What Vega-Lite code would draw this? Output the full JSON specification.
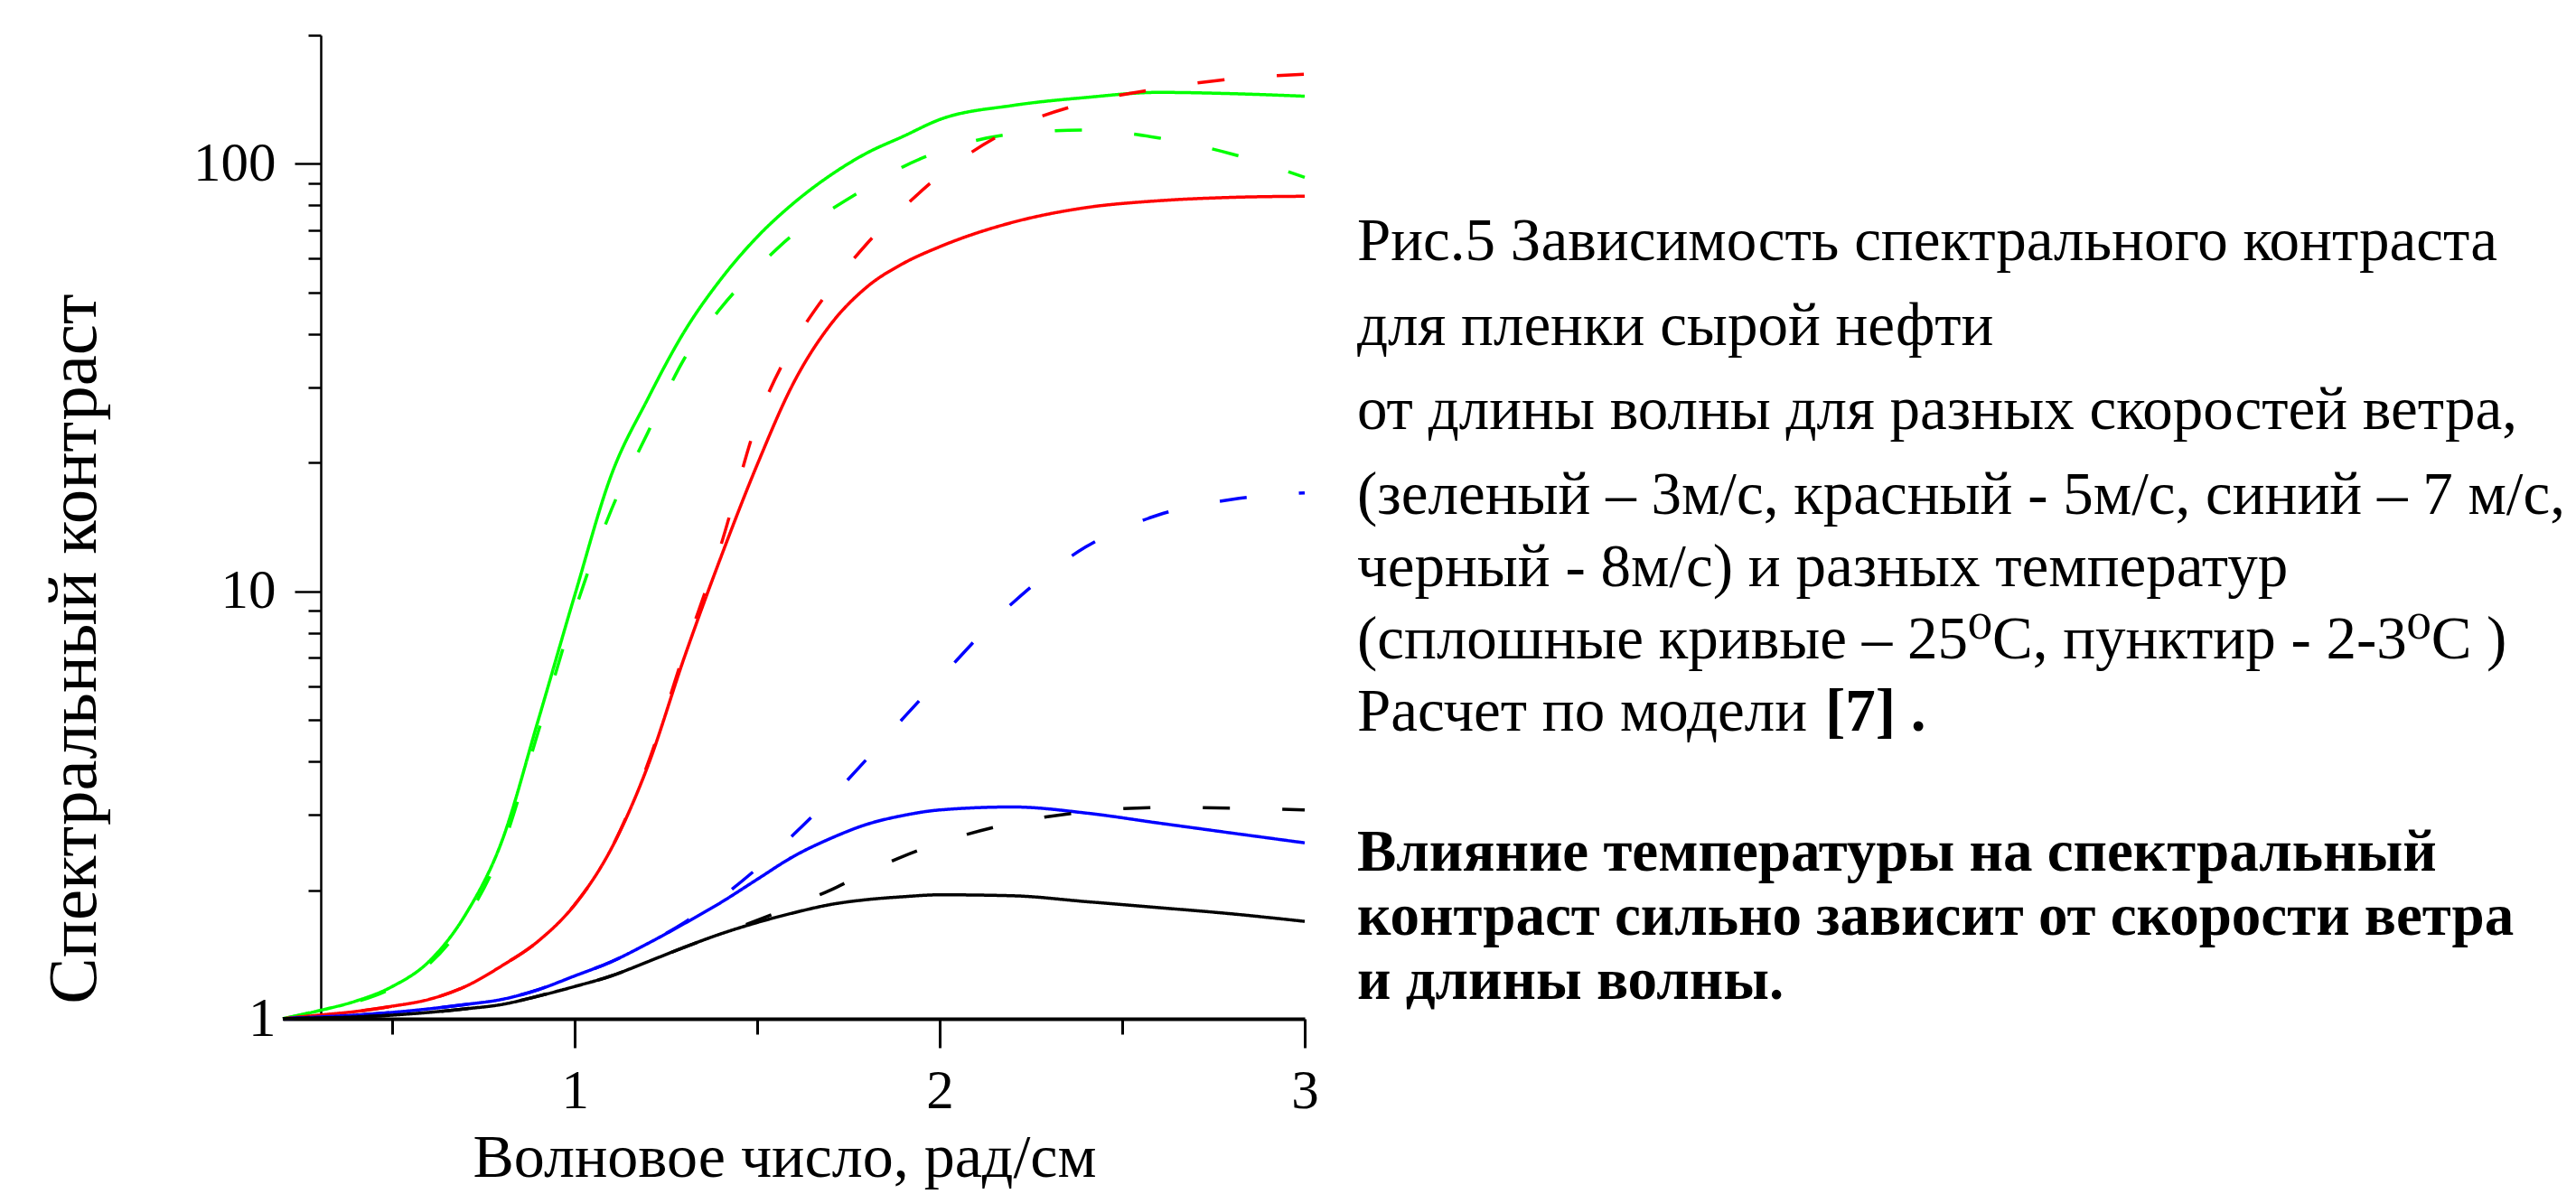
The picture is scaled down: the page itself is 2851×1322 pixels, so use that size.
{
  "$schema": "https://vega.github.io/schema/vega-lite/v6.json",
  "autosize": {"type": "none"},
  "padding": {"left": 313, "top": 39, "right": 1407, "bottom": 194},
  "width": 1131,
  "height": 1089,
  "background": "white",
  "config": {"view": {"stroke": null}},
  "datasets": {
    "curves": [
      {"k":0.2,"g25":1.0,"g2":1.0,"r25":1.0,"r2":1.0,"b25":1.0,"b2":1.0,"k25":1.0,"k2":1.0},
      {"k":0.3,"g25":1.045,"g2":1.045,"r25":1.02,"r2":1.02,"b25":1.01,"b2":1.01,"k25":1.005,"k2":1.005},
      {"k":0.4,"g25":1.1,"g2":1.095,"r25":1.04,"r2":1.04,"b25":1.02,"b2":1.02,"k25":1.01,"k2":1.01},
      {"k":0.5,"g25":1.19,"g2":1.18,"r25":1.07,"r2":1.07,"b25":1.035,"b2":1.035,"k25":1.02,"k2":1.02},
      {"k":0.6,"g25":1.36,"g2":1.34,"r25":1.11,"r2":1.11,"b25":1.055,"b2":1.055,"k25":1.035,"k2":1.035},
      {"k":0.7,"g25":1.75,"g2":1.7,"r25":1.19,"r2":1.19,"b25":1.08,"b2":1.08,"k25":1.055,"k2":1.055},
      {"k":0.8,"g25":2.6,"g2":2.5,"r25":1.33,"r2":1.33,"b25":1.11,"b2":1.11,"k25":1.08,"k2":1.08},
      {"k":0.9,"g25":5.0,"g2":4.7,"r25":1.52,"r2":1.52,"b25":1.17,"b2":1.17,"k25":1.13,"k2":1.13},
      {"k":1.0,"g25":9.8,"g2":9.0,"r25":1.85,"r2":1.85,"b25":1.26,"b2":1.26,"k25":1.19,"k2":1.19},
      {"k":1.1,"g25":18.7,"g2":15.5,"r25":2.5,"r2":2.5,"b25":1.36,"b2":1.36,"k25":1.26,"k2":1.26},
      {"k":1.2,"g25":28.2,"g2":23.5,"r25":3.9,"r2":3.95,"b25":1.5,"b2":1.5,"k25":1.36,"k2":1.36},
      {"k":1.3,"g25":40.5,"g2":35,"r25":7.0,"r2":7.2,"b25":1.67,"b2":1.68,"k25":1.47,"k2":1.47},
      {"k":1.4,"g25":53.7,"g2":46,"r25":12.0,"r2":12.8,"b25":1.87,"b2":1.92,"k25":1.58,"k2":1.58},
      {"k":1.5,"g25":67.5,"g2":57,"r25":19.8,"r2":25,"b25":2.12,"b2":2.25,"k25":1.68,"k2":1.7},
      {"k":1.6,"g25":81,"g2":68.5,"r25":30.8,"r2":38,"b25":2.4,"b2":2.7,"k25":1.77,"k2":1.84},
      {"k":1.7,"g25":94,"g2":78,"r25":42,"r2":51,"b25":2.64,"b2":3.28,"k25":1.85,"k2":2.0},
      {"k":1.8,"g25":106,"g2":88,"r25":51.5,"r2":65,"b25":2.85,"b2":4.05,"k25":1.9,"k2":2.2},
      {"k":1.9,"g25":116,"g2":98.5,"r25":58.5,"r2":79,"b25":2.99,"b2":5.05,"k25":1.93,"k2":2.4},
      {"k":2.0,"g25":127,"g2":107,"r25":64,"r2":94,"b25":3.08,"b2":6.25,"k25":1.95,"k2":2.58},
      {"k":2.2,"g25":137,"g2":117.5,"r25":73,"r2":121,"b25":3.13,"b2":9.4,"k25":1.94,"k2":2.87},
      {"k":2.4,"g25":143,"g2":120,"r25":79,"r2":139,"b25":3.03,"b2":12.7,"k25":1.88,"k2":3.05},
      {"k":2.6,"g25":147,"g2":115,"r25":82,"r2":150,"b25":2.87,"b2":15.1,"k25":1.82,"k2":3.12},
      {"k":2.8,"g25":146,"g2":105.5,"r25":83.5,"r2":158,"b25":2.72,"b2":16.4,"k25":1.76,"k2":3.11},
      {"k":3.0,"g25":144,"g2":93,"r25":84,"r2":162,"b25":2.58,"b2":17.0,"k25":1.69,"k2":3.08}
    ],
    "caption": [
      {"line":1,"text":"Рис.5 Зависимость спектрального контраста","style":"plain"},
      {"line":2,"text":"для пленки сырой нефти","style":"plain"},
      {"line":3,"text":"от длины волны для разных скоростей ветра,","style":"plain"},
      {"line":4,"text":"(зеленый – 3м/с, красный  - 5м/с,  синий – 7 м/с,","style":"plain"},
      {"line":5,"text":"черный - 8м/с) и разных температур","style":"plain"},
      {"line":6,"text":"(сплошные кривые – 25⁰C, пунктир - 2-3⁰C )","style":"plain"},
      {"line":7,"text":"Расчет по модели","style":"plain"},
      {"line":7,"text":"[7] .","style":"ref"},
      {"line":9,"text":"Влияние температуры на спектральный","style":"bold"},
      {"line":10,"text":"контраст сильно зависит  от скорости ветра","style":"bold"},
      {"line":11,"text":"и длины волны.","style":"bold"}
    ]
  },
  "resolve": {"scale": {"y": "independent"}, "axis": {"y": "independent"}},
  "layer": [
    {
      "data": {"name": "curves"},
      "transform": [{"fold": ["g25","g2","r25","r2","b25","b2","k25","k2"], "as": ["series","value"]}],
      "mark": {"type": "line", "strokeWidth": 3.5, "interpolate": "monotone"},
      "encoding": {
        "x": {
          "field": "k", "type": "quantitative",
          "scale": {"domain": [0.2, 3], "nice": false, "zero": false},
          "axis": {
            "values": [0.5, 1, 1.5, 2, 2.5, 3],
            "tickSize": {"condition": {"test": "datum.value % 1 !== 0", "value": 17}, "value": 32},
            "labelExpr": "datum.value % 1 === 0 ? format(datum.value, 'd') : ''",
            "grid": false, "domainColor": "black", "domainWidth": 4,
            "tickColor": "black", "tickWidth": 3,
            "labelFont": "Liberation Serif", "labelFontSize": 61, "labelColor": "black",
            "labelPadding": 18, "labelFlush": false, "labelOverlap": false,
            "title": "Волновое число, рад/см",
            "titleFont": "Liberation Serif", "titleFontSize": 68, "titleFontWeight": "normal",
            "titleColor": "black", "titleX": 555, "titleY": 174,
            "titleBaseline": "alphabetic", "titleAlign": "center"
          }
        },
        "y": {
          "field": "value", "type": "quantitative",
          "scale": {"type": "log", "domain": [1, 200], "nice": false},
          "axis": {
            "offset": -42,
            "values": [1,2,3,4,5,6,7,8,9,10,20,30,40,50,60,70,80,90,100,200],
            "format": "d",
            "tickSize": {"condition": {"test": "indexof([1,10,100], datum.value) < 0", "value": 14}, "value": 29},
            "labelExpr": "indexof([1,10,100], datum.value) >= 0 ? datum.label : ''",
            "grid": false, "domainColor": "black", "domainWidth": 2.5,
            "tickColor": "black", "tickWidth": 2.5,
            "labelFont": "Liberation Serif", "labelFontSize": 61, "labelColor": "black",
            "labelPadding": 21, "labelFlush": false, "labelOverlap": false,
            "title": "Спектральный контраст",
            "titleFont": "Liberation Serif", "titleFontSize": 77, "titleFontWeight": "normal",
            "titleColor": "black", "titleAngle": 270, "titleX": -273, "titleY": 679,
            "titleBaseline": "middle", "titleAlign": "center"
          }
        },
        "color": {
          "field": "series", "type": "nominal", "legend": null,
          "scale": {
            "domain": ["g25","g2","r25","r2","b25","b2","k25","k2"],
            "range": ["#00ff00","#00ff00","#ff0000","#ff0000","#0000ff","#0000ff","#000000","#000000"]
          }
        },
        "strokeDash": {
          "field": "series", "type": "nominal", "legend": null,
          "scale": {
            "domain": ["g25","g2","r25","r2","b25","b2","k25","k2"],
            "range": [[1,0],[30,58],[1,0],[30,58],[1,0],[30,58],[1,0],[30,58]]
          }
        }
      }
    },
    {
      "data": {"name": "caption"},
      "layer": [
        {
          "transform": [{"filter": "datum.style === 'plain'"}],
          "mark": {"type": "text", "align": "left", "baseline": "middle", "font": "Liberation Serif, DejaVu Serif", "fontSize": 67, "color": "black"}
        },
        {
          "transform": [{"filter": "datum.style === 'ref'"}],
          "mark": {"type": "text", "align": "left", "baseline": "middle", "font": "Liberation Serif", "fontSize": 67, "fontWeight": "bold", "color": "black", "dx": 518}
        },
        {
          "transform": [{"filter": "datum.style === 'bold'"}],
          "mark": {"type": "text", "align": "left", "baseline": "middle", "font": "Liberation Serif", "fontSize": 65, "fontWeight": "bold", "color": "black"}
        }
      ],
      "encoding": {
        "x": {"value": 1189},
        "y": {"field": "line", "type": "quantitative", "scale": {"domain": [1, 4, 7, 9, 11], "range": [229, 510, 750, 905, 1047]}, "axis": null},
        "text": {"field": "text"}
      }
    }
  ]
}
